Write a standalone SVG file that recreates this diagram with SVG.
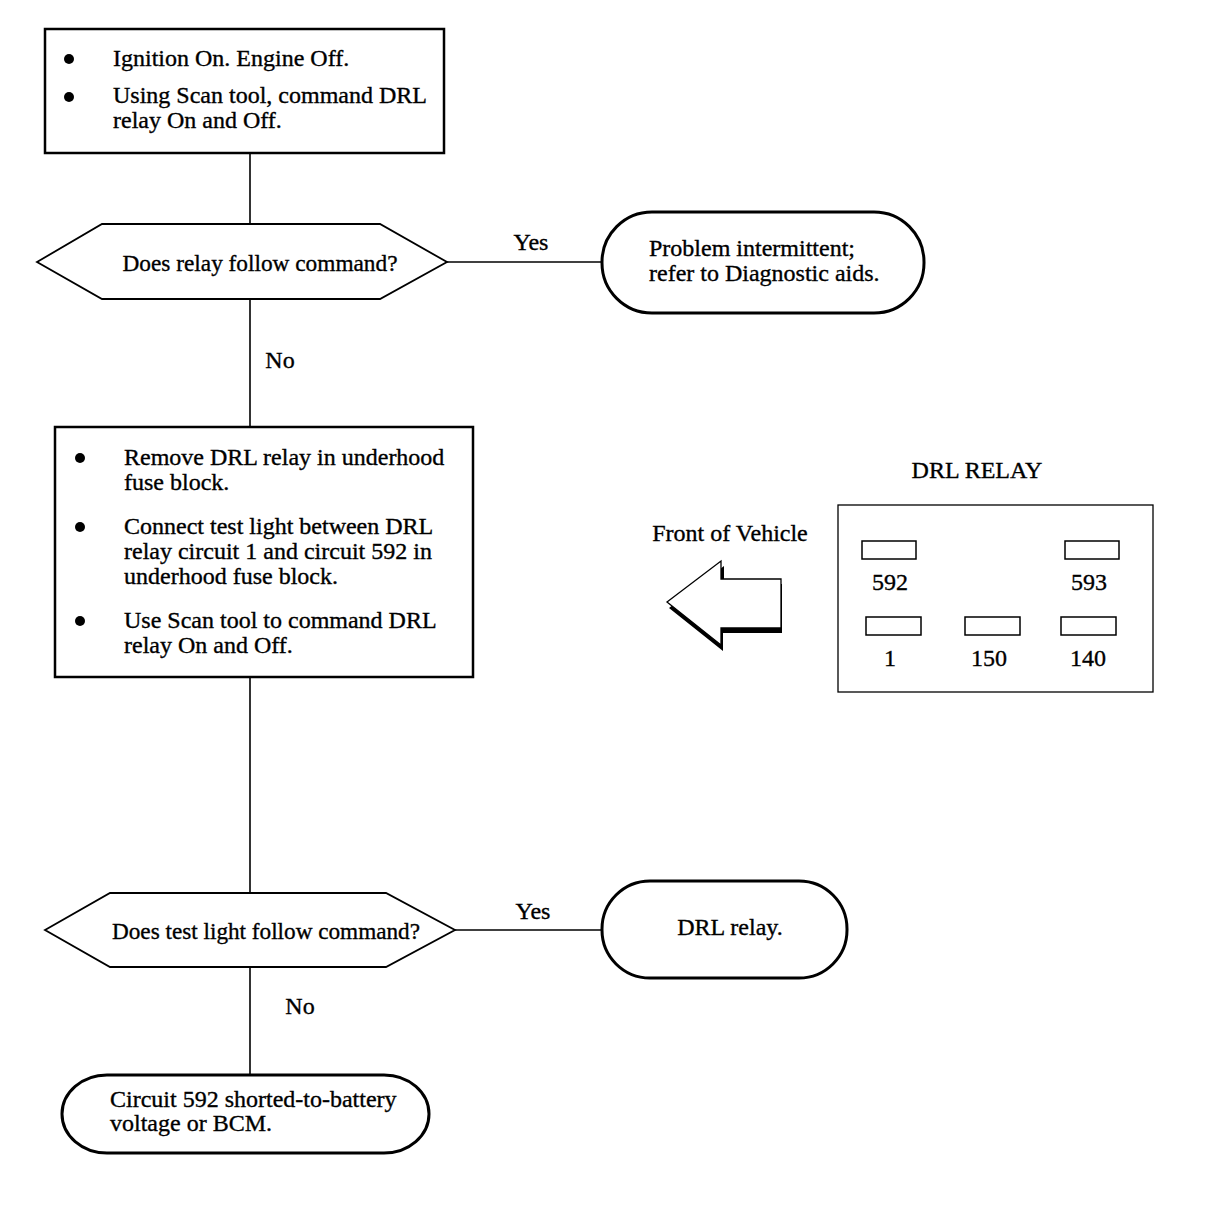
<svg xmlns="http://www.w3.org/2000/svg" width="1216" height="1232" viewBox="0 0 1216 1232">
<style>
text{font-family:"Liberation Serif","Times New Roman",serif;font-size:24px;fill:#000;stroke:#000;stroke-width:0.35}
.box{fill:#fff;stroke:#000;stroke-width:2.5}
.term{fill:#fff;stroke:#000;stroke-width:3}
.dec{fill:#fff;stroke:#000;stroke-width:1.8}
.conn{stroke:#000;stroke-width:1.6;fill:none}
.pin{fill:#fff;stroke:#000;stroke-width:1.5}
.c{text-anchor:middle}
</style>
<rect width="1216" height="1232" fill="#fff"/>
<g id="connectors">
<line class="conn" x1="250" y1="153" x2="250" y2="224"/>
<line class="conn" x1="447" y1="262" x2="602" y2="262"/>
<line class="conn" x1="250" y1="299" x2="250" y2="427"/>
<line class="conn" x1="250" y1="677" x2="250" y2="893"/>
<line class="conn" x1="455" y1="930" x2="602" y2="930"/>
<line class="conn" x1="250" y1="967" x2="250" y2="1075"/>
<text x="531" y="250" class="c">Yes</text>
<text x="280" y="368" class="c">No</text>
<text x="533" y="919" class="c">Yes</text>
<text x="300" y="1014" class="c">No</text>
</g>
<g id="step1">
<rect class="box" x="45" y="29" width="399" height="124"/>
<circle cx="69" cy="59" r="5"/>
<circle cx="69" cy="97" r="5"/>
<text x="113" y="66">Ignition On. Engine Off.</text>
<text x="113" y="103">Using Scan tool, command DRL</text>
<text x="113" y="128">relay On and Off.</text>
</g>
<g id="decision1">
<polygon class="dec" points="37,262 102,224 380,224 447,262 380,299 102,299"/>
<text x="260" y="271" class="c" textLength="275" lengthAdjust="spacingAndGlyphs">Does relay follow command?</text>
</g>
<g id="result1">
<rect class="term" x="602" y="212" width="322" height="101" rx="50" ry="50"/>
<text x="649" y="256">Problem intermittent;</text>
<text x="649" y="281">refer to Diagnostic aids.</text>
</g>
<g id="step2">
<rect class="box" x="55" y="427" width="418" height="250"/>
<circle cx="80" cy="458" r="5"/>
<circle cx="80" cy="527" r="5"/>
<circle cx="80" cy="621" r="5"/>
<text x="124" y="465">Remove DRL relay in underhood</text>
<text x="124" y="490">fuse block.</text>
<text x="124" y="534">Connect test light between DRL</text>
<text x="124" y="559">relay circuit 1 and circuit 592 in</text>
<text x="124" y="584">underhood fuse block.</text>
<text x="124" y="628">Use Scan tool to command DRL</text>
<text x="124" y="653">relay On and Off.</text>
</g>
<g id="relay-diagram">
<text x="977" y="478" class="c">DRL RELAY</text>
<rect x="838" y="505" width="315" height="187" fill="#fff" stroke="#000" stroke-width="1.3"/>
<rect class="pin" x="862" y="541" width="54" height="18"/>
<rect class="pin" x="1065" y="541" width="54" height="18"/>
<rect class="pin" x="866" y="617" width="55" height="18"/>
<rect class="pin" x="965" y="617" width="55" height="18"/>
<rect class="pin" x="1061" y="617" width="55" height="18"/>
<text x="890" y="590" class="c">592</text>
<text x="1089" y="590" class="c">593</text>
<text x="890" y="666" class="c">1</text>
<text x="989" y="666" class="c">150</text>
<text x="1088" y="666" class="c">140</text>
<text x="730" y="541" class="c">Front of Vehicle</text>
<polygon points="669,608 723,651 723,633 782,633 782,584 724,584 724,566" fill="#000"/>
<polygon points="667,602 721,561 721,579 781,579 781,628 721,628 721,645" fill="#fff" stroke="#000" stroke-width="1.3"/>
</g>
<g id="decision2">
<polygon class="dec" points="45,930 110,893 386,893 455,930 386,967 110,967"/>
<text x="266" y="939" class="c" textLength="308" lengthAdjust="spacingAndGlyphs">Does test light follow command?</text>
</g>
<g id="result2">
<rect class="term" x="602" y="881" width="245" height="97" rx="48" ry="48"/>
<text x="730" y="935" class="c">DRL relay.</text>
</g>
<g id="result3">
<rect class="term" x="62" y="1075" width="367" height="78" rx="45" ry="39"/>
<text x="110" y="1107">Circuit 592 shorted-to-battery</text>
<text x="110" y="1131">voltage or BCM.</text>
</g>
</svg>
